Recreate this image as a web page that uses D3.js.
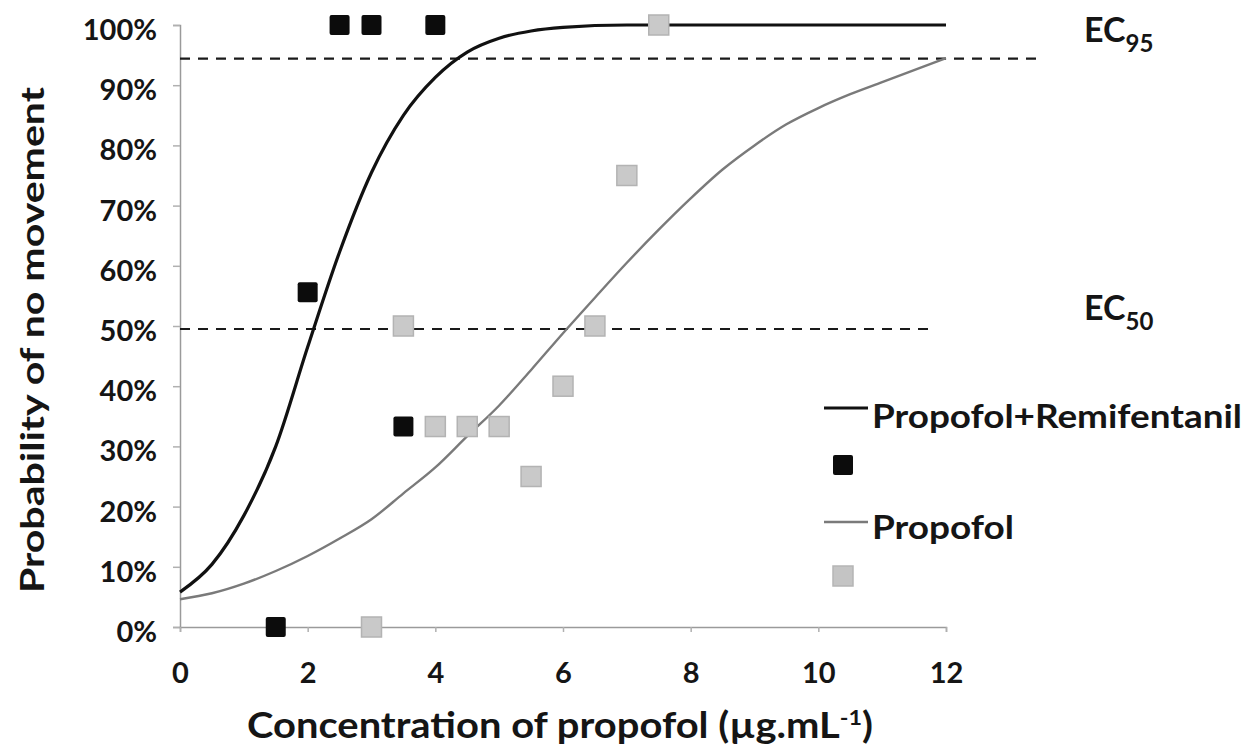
<!DOCTYPE html>
<html>
<head>
<meta charset="utf-8">
<script src="https://cdn.jsdelivr.net/npm/d3@7"></script>
<style>
  body { margin: 0; background: #fff; }
  svg { display: block; font-family: Lato, "Open Sans", sans-serif; font-weight: bold; }
</style>
</head>
<body>
<div id="chart"></div>
<script>
// fitted curves (x in ug/mL, y as probability)
const remiCurveX = [0, 0.5, 1, 1.5, 2, 2.5, 3, 3.5, 4, 4.5, 5, 5.5, 6, 7, 8, 12];
const remiCurveY = [0.058, 0.104, 0.185, 0.30, 0.465, 0.623, 0.755, 0.85, 0.913, 0.955, 0.978, 0.99, 0.996, 1, 1, 1];
const propCurveX = [0, 0.5, 1, 1.5, 2, 2.5, 3, 3.5, 4, 4.5, 5, 5.5, 6, 6.5, 7, 7.5, 8, 8.5, 9, 9.5, 10, 10.5, 11, 11.5, 12];
const propCurveY = [0.046, 0.056, 0.072, 0.093, 0.118, 0.147, 0.179, 0.222, 0.265, 0.317, 0.368, 0.427, 0.488, 0.547, 0.605, 0.66, 0.712, 0.76, 0.80, 0.835, 0.862, 0.885, 0.905, 0.925, 0.945];

// observed points
const remiPtsX = [1.5, 2, 2.5, 3, 3.5, 4];
const remiPtsY = [0, 0.556, 1, 1, 0.333, 1];
const propPtsX = [3, 3.5, 4, 4.5, 5, 5.5, 6, 6.5, 7, 7.5];
const propPtsY = [0, 0.5, 0.333, 0.333, 0.333, 0.25, 0.40, 0.5, 0.75, 1];

// reference levels
const ecNames = ['95', '50'];
const ecLevels = [0.944, 0.495];
const ecEnds = [13.43, 11.83];

const xTicks = [0, 2, 4, 6, 8, 10, 12];
const yTicks = [0, 0.1, 0.2, 0.3, 0.4, 0.5, 0.6, 0.7, 0.8, 0.9, 1];
const legendNames = ['Propofol+Remifentanil', 'Propofol'];

const width = 1253, height = 749;
const x = d3.scaleLinear().domain([0, 12]).range([180, 946]);
const y = d3.scaleLinear().domain([0, 1]).range([627, 25]);

const svg = d3.select('#chart').append('svg')
    .attr('width', width)
    .attr('height', height);

// axes
const yAxis = svg.append('g')
    .attr('transform', `translate(${x(0)},0)`)
    .call(d3.axisLeft(y).tickValues(yTicks).tickSize(7).tickPadding(16).tickFormat(d3.format('.0%')));
const xAxis = svg.append('g')
    .attr('transform', `translate(0,${y(0)})`)
    .call(d3.axisBottom(x).tickValues(xTicks).tickSize(5).tickPadding(30).tickFormat(d3.format('d')));

[yAxis, xAxis].forEach(a => {
    a.select('.domain').attr('stroke', '#9a9a9a').attr('stroke-width', 1.5);
    a.selectAll('.tick line').attr('stroke', '#b0b0b0').attr('stroke-width', 1.5);
    a.selectAll('text')
        .attr('fill', '#151515')
        .style('font-family', 'Lato, "Open Sans", sans-serif')
        .style('font-weight', 'bold')
        .style('font-size', '29px');
});
yAxis.selectAll('text').attr('dy', '0.5em');

// dashed reference lines
svg.append('g').selectAll('line')
    .data(ecLevels)
    .enter()
    .append('line')
    .attr('x1', x(0))
    .attr('x2', (d, i) => x(ecEnds[i]))
    .attr('y1', d => y(d))
    .attr('y2', d => y(d))
    .style('stroke', '#1a1a1a')
    .style('stroke-width', 2.2)
    .style('stroke-dasharray', '10,8');

// EC labels
const ecLabel = svg.append('g').selectAll('text')
    .data(ecLevels)
    .enter()
    .append('text')
    .attr('x', 1084)
    .attr('y', (d, i) => i === 0 ? 42 : 320)
    .attr('fill', '#151515')
    .style('font-size', '34px');
ecLabel.append('tspan').text('EC');
ecLabel.append('tspan')
    .attr('dy', 10)
    .style('font-size', '24px')
    .text((d, i) => ecNames[i]);

// curves
const line = d3.line()
    .x(d => x(d[0]))
    .y(d => y(d[1]))
    .curve(d3.curveMonotoneX);

svg.append('path')
    .datum(propCurveX.map((v, i) => [v, propCurveY[i]]))
    .attr('d', line)
    .style('fill', 'none')
    .style('stroke', '#7a7a7a')
    .style('stroke-width', 2.4);

svg.append('path')
    .datum(remiCurveX.map((v, i) => [v, remiCurveY[i]]))
    .attr('d', line)
    .style('fill', 'none')
    .style('stroke', '#111')
    .style('stroke-width', 3.2);

// points
svg.append('g').selectAll('rect')
    .data(propPtsX.map((v, i) => [v, propPtsY[i]]))
    .enter()
    .append('rect')
    .attr('x', d => x(d[0]) - 10)
    .attr('y', d => y(d[1]) - 10)
    .attr('width', 20)
    .attr('height', 20)
    .style('fill', '#c9c9c9')
    .style('stroke', '#b3b3b3')
    .style('stroke-width', 1.5);

svg.append('g').selectAll('rect')
    .data(remiPtsX.map((v, i) => [v, remiPtsY[i]]))
    .enter()
    .append('rect')
    .attr('x', d => x(d[0]) - 10)
    .attr('y', d => y(d[1]) - 10)
    .attr('width', 20)
    .attr('height', 20)
    .attr('rx', 2)
    .style('fill', '#0c0c0c');

// legend
const legend = svg.append('g');
legend.append('line')
    .attr('x1', 824).attr('x2', 868)
    .attr('y1', 408).attr('y2', 408)
    .style('stroke', '#111').style('stroke-width', 3);
legend.append('text')
    .attr('x', 872).attr('y', 428)
    .attr('fill', '#151515')
    .attr('textLength', 370)
    .attr('lengthAdjust', 'spacingAndGlyphs')
    .style('font-size', '33px')
    .text(legendNames[0]);
legend.append('rect')
    .attr('x', 833).attr('y', 455)
    .attr('width', 20).attr('height', 20).attr('rx', 2)
    .style('fill', '#0c0c0c');
legend.append('line')
    .attr('x1', 824).attr('x2', 868)
    .attr('y1', 522).attr('y2', 522)
    .style('stroke', '#7a7a7a').style('stroke-width', 2.4);
legend.append('text')
    .attr('x', 872).attr('y', 539)
    .attr('fill', '#151515')
    .attr('textLength', 142)
    .attr('lengthAdjust', 'spacingAndGlyphs')
    .style('font-size', '33px')
    .text(legendNames[1]);
legend.append('rect')
    .attr('x', 833).attr('y', 566)
    .attr('width', 20).attr('height', 20)
    .style('fill', '#c4c4c4')
    .style('stroke', '#b5b5b5').style('stroke-width', 1.5);

// axis titles
const xTitle = svg.append('text')
    .attr('x', 247).attr('y', 738)
    .attr('fill', '#151515')
    .attr('textLength', 626)
    .attr('lengthAdjust', 'spacingAndGlyphs')
    .style('font-size', '36px');
xTitle.append('tspan').text('Concentration of propofol (µg.mL');
xTitle.append('tspan').attr('dy', -13).style('font-size', '21px').text('-1');
xTitle.append('tspan').attr('dy', 13).text(')');

svg.append('text')
    .attr('transform', 'translate(44,340) rotate(-90)')
    .attr('text-anchor', 'middle')
    .attr('fill', '#151515')
    .attr('textLength', 506)
    .attr('lengthAdjust', 'spacingAndGlyphs')
    .style('font-size', '33px')
    .text('Probability of no movement');
</script>
</body>
</html>
